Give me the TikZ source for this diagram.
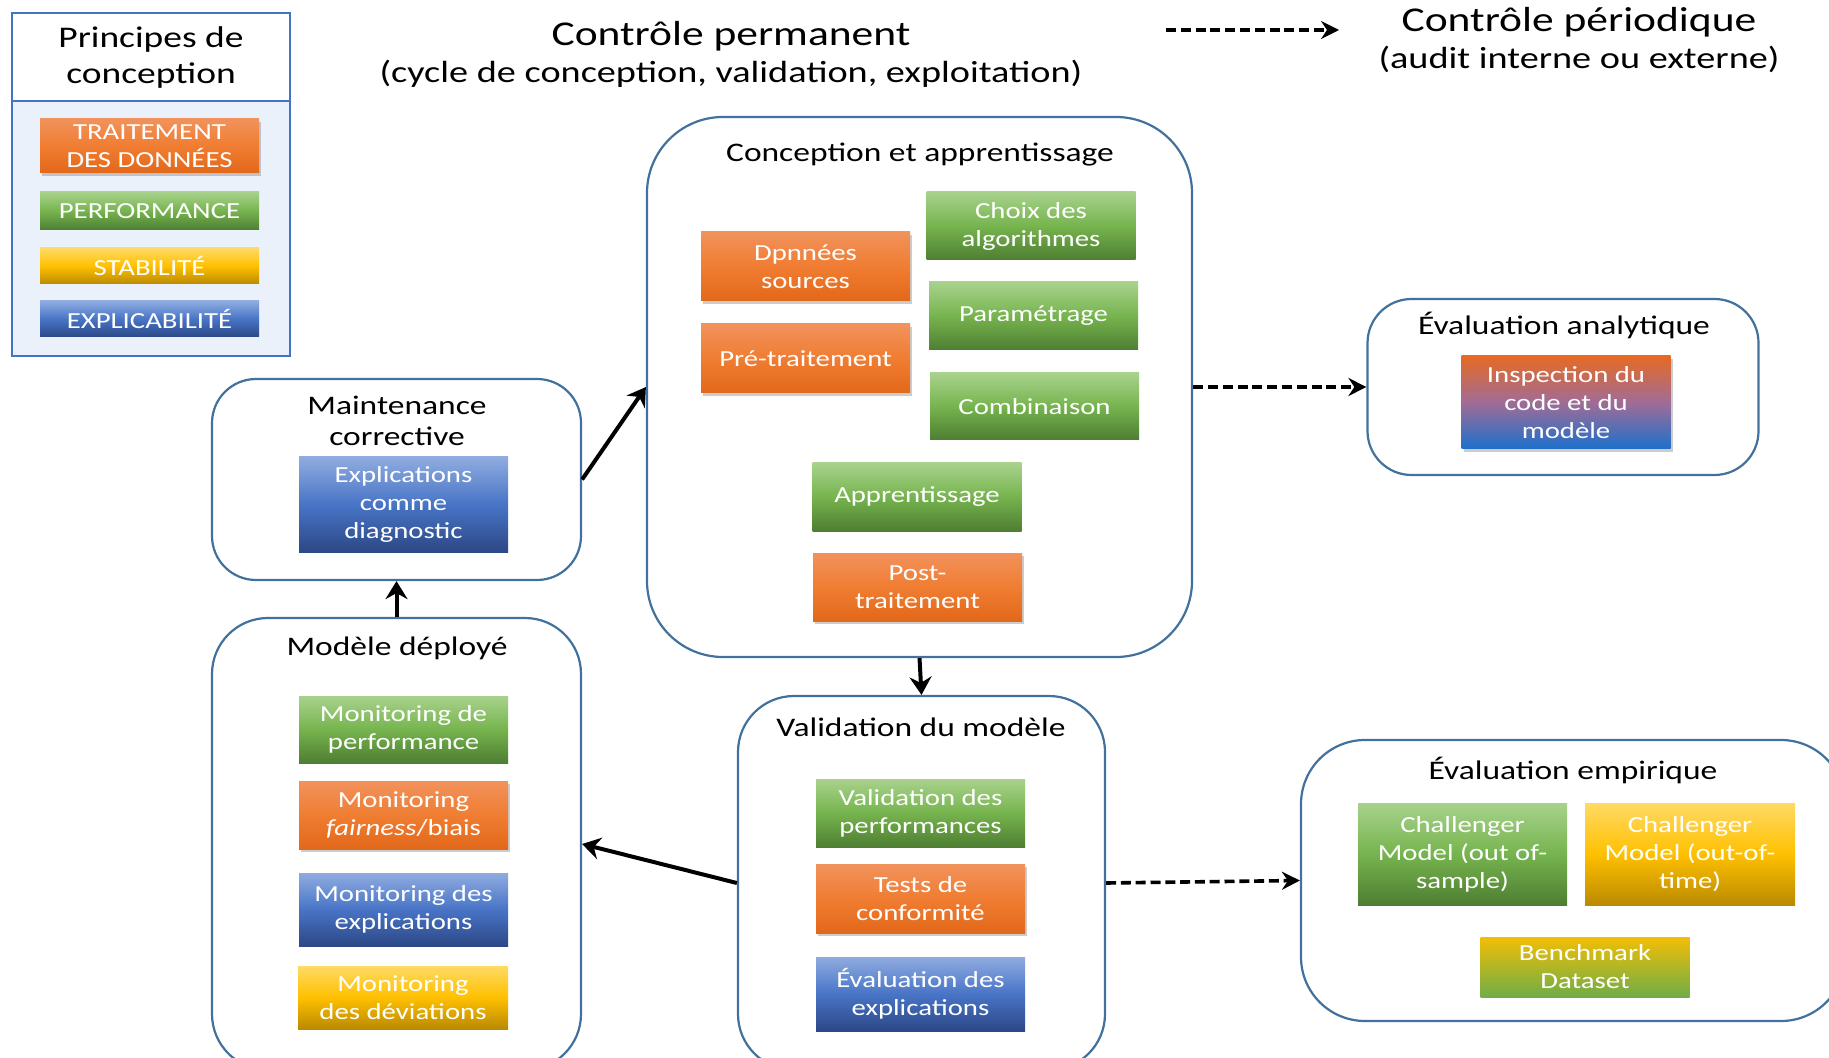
\documentclass[tikz,border=0pt]{standalone}
\usepackage{fontspec}
\setmainfont[FakeStretch=1.25]{Carlito}
\usepackage{tikz}
\usetikzlibrary{arrows.meta,shadows}

\begin{document}
\begin{tikzpicture}[x=0.5pt,y=-0.5pt,
  ctr/.style={draw={rgb,255:red,65;green,113;blue,156},line width=1.1pt,fill=white,inner sep=0pt},
  ttl/.style={font=\fontsize{13.4}{15.5}\selectfont,align=center,inner sep=0pt},
  pbox/.style={font=\fontsize{11.5}{14}\selectfont,text=white,align=center,inner sep=0pt,minimum width=104.5pt},
  shd/.style={drop shadow={shadow xshift=1.2pt,shadow yshift=-1.6pt,opacity=0.4}},
  orabox/.style={pbox,shd,top color={rgb,255:red,241;green,146;blue,92},bottom color={rgb,255:red,226;green,104;blue,26},middle color={rgb,255:red,240;green,125;blue,50}},
  grebox/.style={pbox,top color={rgb,255:red,168;green,210;blue,140},bottom color={rgb,255:red,78;green,126;blue,50},middle color={rgb,255:red,118;green,180;blue,78}},
  yelbox/.style={pbox,top color={rgb,255:red,255;green,218;blue,100},bottom color={rgb,255:red,186;green,138;blue,0},middle color={rgb,255:red,255;green,192;blue,0}},
  blubox/.style={pbox,top color={rgb,255:red,143;green,172;blue,224},bottom color={rgb,255:red,44;green,72;blue,134},middle color={rgb,255:red,72;green,116;blue,198}},
  arr/.style={line width=2pt,-{Stealth[length=9pt,width=11pt,inset=3pt]}},
  darr/.style={line width=1.8pt,dash pattern=on 5pt off 2.4pt,-{Stealth[length=9pt,width=9pt,inset=3pt]}}
]
\useasboundingbox (0,0) rectangle (1829,1058);
\clip (0,0) rectangle (1829,1058);

%Shape: Legend
\draw [draw={rgb,255:red,68;green,114;blue,196},line width=1pt,fill={rgb,255:red,234;green,241;blue,250}] (12,13) rectangle (290,356);
\draw [draw={rgb,255:red,68;green,114;blue,196},line width=1pt,fill=white] (12,13) rectangle (290,101);
% Text Node
\node (princ) [font=\fontsize{15}{18}\selectfont,align=center,inner sep=0pt] at (151,58) {Principes de\\conception};
\node (lgtrait) [orabox,minimum width=109.5pt,minimum height=27pt] at (149.5,146) {TRAITEMENT\\DES DONNÉES};
\node (lgperf) [grebox,minimum width=109.5pt,minimum height=19pt] at (149.5,211) {PERFORMANCE};
\node (lgstab) [yelbox,minimum width=109.5pt,minimum height=18pt] at (149.5,266) {STABILITÉ};
\node (lgexpl) [blubox,minimum width=109.5pt,minimum height=18pt] at (149.5,319) {EXPLICABILITÉ};

% Text Node
\node (perm) [font=\fontsize{17.4}{20}\selectfont,inner sep=0pt] at (731,36) {Contrôle permanent};
\node (permsub) [font=\fontsize{15.3}{18}\selectfont,inner sep=0pt] at (731,74) {(cycle de conception, validation, exploitation)};
\node (perio) [font=\fontsize{17.4}{20}\selectfont,inner sep=0pt] at (1579,22) {Contrôle périodique};
\node (periosub) [font=\fontsize{15.3}{18}\selectfont,inner sep=0pt] at (1579,59) {(audit interne ou externe)};
\coordinate (dstart) at (1166,30);
\coordinate (dend) at (1339,30);

%Shape: Conception et apprentissage
\node (conc) [ctr,rounded corners=38pt,minimum width=272.5pt,minimum height=270pt] at (919.5,387) {};
\node (conct) [ttl] at (920,155) {Conception et apprentissage};
\node (donnees) [orabox,minimum height=34.5pt] at (805.5,266.5) {Dpnnées\\sources};
\node (pretrait) [orabox,minimum height=34.5pt] at (805.5,358.5) {Pré-traitement};
\node (choix) [grebox,minimum height=34pt] at (1031,226) {Choix des\\algorithmes};
\node (param) [grebox,minimum height=34pt] at (1033.5,316) {Paramétrage};
\node (combi) [grebox,minimum height=33.5pt] at (1034.5,406.5) {Combinaison};
\node (appr) [grebox,minimum height=34pt] at (917,497) {Apprentissage};
\node (post) [orabox,minimum height=34pt] at (917.5,587) {Post-\\traitement};

%Shape: Evaluation analytique
\node (ana) [ctr,rounded corners=22pt,minimum width=195.5pt,minimum height=88pt] at (1563,387) {};
\node (anat) [ttl] at (1564,325) {Évaluation analytique};
\node (inspect) [pbox,shd,minimum height=46.5pt,top color={rgb,255:red,230;green,106;blue,36},bottom color={rgb,255:red,28;green,112;blue,204},middle color={rgb,255:red,160;green,108;blue,150}] at (1566,402.5) {Inspection du\\code et du\\modèle};

%Shape: Maintenance corrective
\node (maint) [ctr,rounded corners=22pt,minimum width=184.5pt,minimum height=100.5pt] at (396.5,479.5) {};
\node (maintt) [ttl] at (397,421) {Maintenance\\corrective};
\node (diag) [blubox,minimum height=47.5pt] at (403.5,504.5) {Explications\\comme\\diagnostic};

%Shape: Modele deploye
\node (modele) [ctr,rounded corners=28pt,minimum width=184.5pt,minimum height=226pt] at (396.5,844) {};
\node (modelet) [ttl] at (397,648) {Modèle déployé};
\node (monperf) [grebox,minimum height=33.5pt] at (403.5,729.5) {Monitoring de\\performance};
\node (monfair) [orabox,minimum height=34pt] at (403.5,815) {Monitoring\\\textit{fairness}/biais};
\node (monexpl) [blubox,minimum height=36.5pt] at (403.5,909.5) {Monitoring des\\explications};
\node (mondev) [yelbox,minimum width=105pt,minimum height=31.5pt] at (403,997.5) {Monitoring\\des déviations};

%Shape: Validation du modele
\node (valid) [ctr,rounded corners=28pt,minimum width=183.5pt,minimum height=187pt] at (921.5,883) {};
\node (validt) [ttl] at (921,727) {Validation du modèle};
\node (valperf) [grebox,minimum height=34pt] at (920.5,813) {Validation des\\performances};
\node (tests) [orabox,minimum height=34.5pt] at (920.5,898.5) {Tests de\\conformité};
\node (evalexpl) [blubox,minimum height=37pt] at (920.5,994) {Évaluation des\\explications};

%Shape: Evaluation empirique
\node (emp) [ctr,rounded corners=32pt,minimum width=272pt,minimum height=140.5pt] at (1573,880.5) {};
\node (empt) [ttl] at (1573,770) {Évaluation empirique};
\node (chalsample) [grebox,minimum height=51pt] at (1462.5,854) {Challenger\\Model (out of-\\sample)};
\node (chaltime) [yelbox,minimum width=105pt,minimum height=51pt] at (1690,854) {Challenger\\Model (out-of-\\time)};
\node (bench) [pbox,minimum height=30pt,top color={rgb,255:red,242;green,190;blue,6},bottom color={rgb,255:red,112;green,173;blue,71}] at (1585,967) {Benchmark\\Dataset};

% Connectors
\draw [arr] (maint.east) -- (conc.west);
\draw [arr] (modele.north) -- (maint.south);
\draw [arr] (conc.south) -- (valid.north);
\draw [arr] (valid.west) -- (modele.east);
\draw [darr] (conc.east) -- (ana.west);
\draw [darr] (valid.east) -- (emp.west);
\draw [darr] (dstart) -- (dend);

\end{tikzpicture}
\end{document}
